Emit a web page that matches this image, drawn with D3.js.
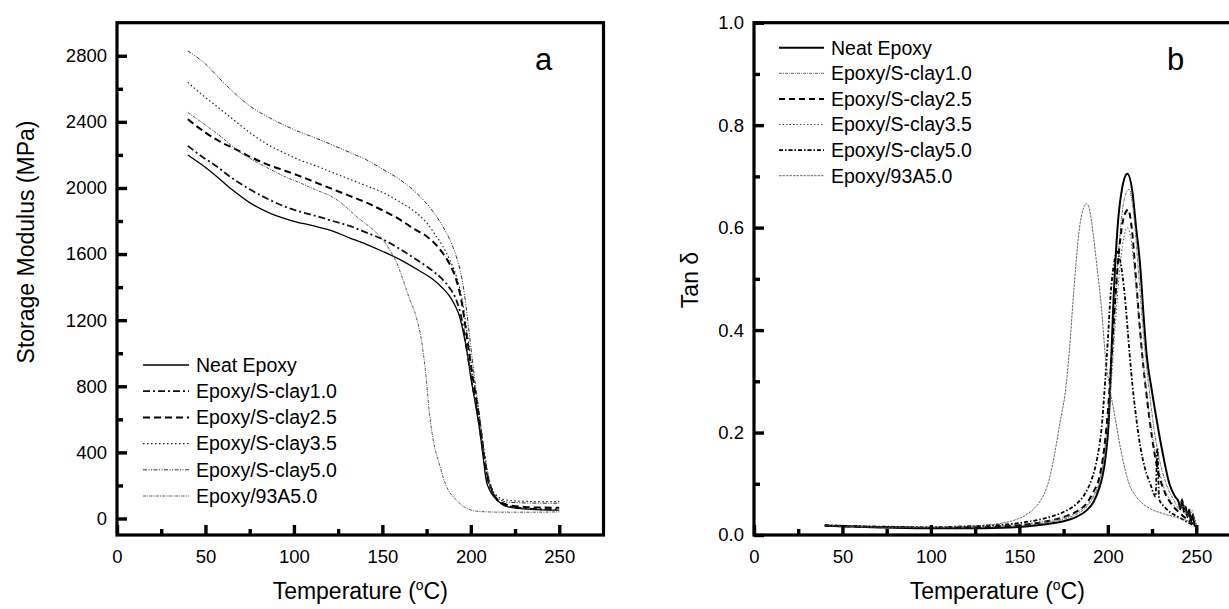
<!DOCTYPE html>
<html>
<head>
<meta charset="utf-8">
<script src="https://cdn.jsdelivr.net/npm/d3@7"></script>
<style>
  html, body { margin: 0; padding: 0; background: #fff; }
  svg { display: block; }
  text { font-family: "Liberation Sans", Arial, sans-serif; fill: #000; }
</style>
</head>
<body>
<svg id="chart" width="1229" height="609"></svg>
<script>
// ---------- DATA ----------
const seriesNames = ["Neat Epoxy", "Epoxy/S-clay1.0", "Epoxy/S-clay2.5", "Epoxy/S-clay3.5", "Epoxy/S-clay5.0", "Epoxy/93A5.0"];

// Panel a: storage modulus (MPa) vs temperature (°C)
const storageNeat = [[40,2200],[48,2140],[56,2073],[65,1990],[75,1911],[87,1845],[99.5,1800],[110,1773],[122,1739],[131,1700],[141,1659],[150,1617],[159.7,1568],[170,1505],[178.5,1447],[184,1395],[188,1345],[191,1290],[193.6,1224],[195.4,1145],[198,1000],[200,853],[202.5,700],[205,536],[207,370],[208.6,235],[211,165],[213,133],[216,100],[220,73],[230,58],[240,52],[250,50]];
const storageS10 = [[40,2255],[48,2190],[56,2133],[65,2060],[75,1992],[85,1935],[94,1891],[103,1858],[112.7,1830],[122,1800],[131.5,1770],[141,1730],[150.3,1689],[160,1630],[169,1568],[177,1510],[184,1447],[188,1395],[191.7,1325],[195,1200],[198,1000],[201,800],[204,620],[206.5,430],[209,260],[212,160],[215,110],[220,80],[230,62],[240,57],[250,55]];
const storageS25 = [[40,2416],[50,2335],[60,2270],[66,2240],[75,2190],[84.5,2144],[94,2108],[103,2073],[112,2035],[122,1992],[131.5,1952],[141,1911],[150,1865],[159.7,1810],[168,1752],[174.8,1709],[180,1660],[184,1608],[188,1540],[191.7,1447],[195,1300],[198,1080],[201,860],[204,660],[206.5,460],[209,280],[212,170],[215,115],[220,85],[230,70],[240,66],[250,65]];
const storageS35 = [[40,2639],[48,2565],[56,2497],[65,2420],[75,2336],[84,2270],[94,2215],[103,2170],[112.7,2133],[122,2093],[131.5,2053],[141,2013],[150.3,1972],[160,1915],[169,1851],[175,1790],[180.4,1709],[184,1650],[188,1568],[192,1460],[195,1330],[198,1120],[201,880],[204,680],[207,450],[209.5,280],[212,180],[215,135],[220,112],[230,104],[240,102],[250,102]];
const storageS50 = [[40,2830],[50,2750],[60,2640],[75,2497],[87,2420],[99.5,2356],[115,2290],[131.5,2215],[141,2170],[150.3,2113],[160,2050],[169,1972],[177,1880],[184,1770],[188,1690],[191.7,1588],[194,1500],[196.5,1350],[199,1130],[202,860],[205,620],[207.5,400],[210,240],[213,150],[217,110],[222,98],[235,93],[250,92]];
const storage93A = [[40,2457],[50,2380],[60,2300],[66,2245],[75,2180],[84.5,2125],[95,2068],[103,2033],[112,1990],[122,1944],[130,1880],[135,1830],[141,1780],[146.5,1730],[150,1690],[154,1628],[158,1550],[161.6,1447],[165,1340],[169,1224],[172,1083],[174.5,880],[176.6,638],[179,460],[182,336],[186,200],[191.7,113],[197,65],[205,42],[220,38],[235,38],[250,40]];

// Panel b: tan delta vs temperature (°C)
const tanNeat = [[40,0.018],[60,0.016],[80,0.014],[100,0.013],[120,0.013],[140,0.014],[155,0.017],[167,0.022],[175,0.027],[182,0.035],[188,0.048],[192,0.065],[195,0.09],[197,0.115],[199,0.16],[200.5,0.22],[201.8,0.33],[203,0.44],[205.5,0.6],[208,0.675],[211,0.705],[214,0.667],[216,0.6],[218,0.537],[220.6,0.41],[222,0.35],[224.5,0.29],[227.3,0.231],[231,0.16],[234.8,0.10],[238,0.075],[240,0.065],[241,0.05],[242,0.07],[243,0.045],[244,0.055],[245,0.035],[246,0.05],[247,0.025],[248,0.04],[249,0.02],[250,0.015]];
const tanS10 = [[40,0.019],[60,0.017],[80,0.015],[100,0.014],[120,0.014],[140,0.016],[155,0.019],[167,0.025],[175,0.031],[182,0.04],[188,0.055],[192,0.075],[195,0.1],[198,0.16],[200,0.23],[202,0.33],[204,0.44],[206.5,0.57],[209,0.65],[212,0.675],[214.5,0.63],[217,0.53],[219,0.44],[221,0.36],[223.5,0.28],[226,0.21],[229,0.15],[233,0.1],[237,0.07],[241,0.05],[243,0.06],[245,0.035],[247,0.045],[250,0.02]];
const tanS25 = [[40,0.018],[60,0.016],[80,0.015],[100,0.014],[120,0.015],[140,0.017],[155,0.021],[167,0.028],[175,0.035],[182,0.045],[188,0.062],[192,0.085],[195,0.11],[198,0.17],[200,0.24],[202,0.34],[204,0.45],[206.5,0.56],[209,0.62],[211.5,0.635],[213.5,0.6],[215.5,0.52],[217.5,0.43],[219.5,0.35],[222,0.27],[225,0.19],[228,0.13],[232,0.085],[236,0.06],[240,0.045],[245,0.03],[249,0.02]];
const tanS35 = [[40,0.02],[60,0.018],[80,0.016],[100,0.015],[120,0.016],[140,0.018],[155,0.022],[167,0.028],[175,0.034],[182,0.043],[188,0.058],[192,0.078],[195,0.1],[198,0.15],[200,0.21],[202,0.3],[204,0.4],[206.5,0.51],[209,0.58],[211,0.6],[213,0.58],[215,0.52],[217,0.44],[219,0.37],[221.5,0.29],[224.5,0.21],[228,0.14],[232,0.09],[236,0.065],[240,0.05],[242,0.07],[244,0.04],[247,0.05],[250,0.02]];
const tanS50 = [[40,0.019],[60,0.017],[80,0.016],[100,0.015],[120,0.017],[140,0.02],[155,0.026],[167,0.035],[175,0.045],[182,0.06],[187,0.08],[191,0.11],[194,0.15],[196.5,0.21],[198.5,0.3],[200,0.38],[201.6,0.47],[203.5,0.53],[205.3,0.553],[207.3,0.53],[209.5,0.47],[211,0.41],[212.4,0.35],[214,0.29],[216,0.23],[218.5,0.17],[221,0.13],[224,0.1],[227,0.075],[228,0.17],[229,0.07],[232,0.055],[235,0.045],[240,0.035],[245,0.025],[249,0.018]];
const tan93A = [[40,0.018],[60,0.016],[80,0.015],[100,0.015],[115,0.016],[130,0.019],[140,0.023],[148,0.03],[155,0.042],[160,0.058],[164,0.08],[167,0.11],[170,0.16],[173,0.22],[176,0.28],[178.3,0.36],[180.2,0.45],[182,0.53],[184,0.6],[186,0.635],[188,0.647],[190,0.63],[192,0.58],[194,0.52],[196.5,0.44],[198.8,0.342],[201,0.29],[204,0.231],[208,0.155],[212,0.1],[216,0.075],[221,0.058],[226,0.048],[231,0.042],[237,0.036],[243,0.03],[250,0.022]];

// Axis ticks
const xTicks = [0, 50, 100, 150, 200, 250];
const xMinorTicks = [25, 75, 125, 175, 225];
const yTicksA = [0, 400, 800, 1200, 1600, 2000, 2400, 2800];
const yMinorTicksA = [200, 600, 1000, 1400, 1800, 2200, 2600];
const yTicksB = [0.0, 0.2, 0.4, 0.6, 0.8, 1.0];
const yMinorTicksB = [0.1, 0.3, 0.5, 0.7, 0.9];

// ---------- STYLES ----------
const stylesA = [
  {stroke:"#000", width:1.3, dash:null},
  {stroke:"#111", width:1.8, dash:"7,3,2,3"},
  {stroke:"#000", width:2.0, dash:"7,4"},
  {stroke:"#222", width:1.2, dash:"1.5,2.5"},
  {stroke:"#333", width:1.0, dash:"4,1.5,1,1.5,1,1.5"},
  {stroke:"#444", width:0.9, dash:"3,1.2,1,1.2"}
];
const stylesB = [
  {stroke:"#000", width:2.0, dash:null},
  {stroke:"#555", width:0.9, dash:"3,1,1,1"},
  {stroke:"#000", width:2.0, dash:"6,4"},
  {stroke:"#555", width:1.0, dash:"1.5,2"},
  {stroke:"#000", width:1.8, dash:"4,2,1.5,2"},
  {stroke:"#555", width:0.9, dash:"2.5,1"}
];

const svg = d3.select("#chart");
const FONT_TICK = 18.5, FONT_TITLE = 23, FONT_LEG = 19.5;

function panel(opts) {
  const g = svg.append("g");
  const x = d3.scaleLinear().domain([0, 275]).range([opts.left, opts.right]);
  const y = d3.scaleLinear().domain(opts.yDomain).range([opts.bottom, opts.top]);

  const clipId = "clip" + opts.id;
  svg.append("defs").append("clipPath").attr("id", clipId)
    .append("rect").attr("x", opts.left).attr("y", opts.top)
    .attr("width", opts.right - opts.left).attr("height", opts.bottom - opts.top);

  const line = d3.line().x(d => x(d[0])).y(d => y(d[1])).curve(d3.curveMonotoneX);
  const lines = g.append("g").attr("clip-path", `url(#${clipId})`);
  opts.data.forEach((s, i) => {
    const st = opts.styles[i];
    lines.append("path").datum(s).attr("d", line)
      .attr("fill", "none").attr("stroke", st.stroke).attr("stroke-width", st.width)
      .attr("stroke-dasharray", st.dash);
  });

  // axes
  const styleAxis = sel => {
    sel.select(".domain").remove();
    sel.selectAll(".tick line").attr("stroke", "#000").attr("stroke-width", 3.4);
    sel.selectAll(".tick text").attr("font-size", FONT_TICK).attr("fill", "#000")
      .style("font-family", '"Liberation Sans", Arial, sans-serif');
  };
  g.append("g").attr("transform", `translate(0,${opts.bottom})`)
    .call(d3.axisBottom(x).tickValues(xTicks).tickFormat(d3.format("d")).tickSize(-10).tickSizeOuter(0).tickPadding(15))
    .call(styleAxis);
  g.append("g").attr("transform", `translate(0,${opts.bottom})`)
    .call(d3.axisBottom(x).tickValues(xMinorTicks).tickFormat("").tickSize(-6).tickSizeOuter(0))
    .call(styleAxis);
  g.append("g").attr("transform", `translate(${opts.left},0)`)
    .call(d3.axisLeft(y).tickValues(opts.yTicks).tickFormat(opts.yFormat).tickSize(-10).tickSizeOuter(0).tickPadding(10))
    .call(styleAxis);
  g.append("g").attr("transform", `translate(${opts.left},0)`)
    .call(d3.axisLeft(y).tickValues(opts.yMinor).tickFormat("").tickSize(-6).tickSizeOuter(0))
    .call(styleAxis);

  // frame
  g.append("rect").attr("x", opts.left).attr("y", opts.top)
    .attr("width", opts.right - opts.left).attr("height", opts.bottom - opts.top)
    .attr("fill", "none").attr("stroke", "#000").attr("stroke-width", 3.2);

  // x title
  const xt = g.append("text").attr("x", (opts.left + opts.right) / 2).attr("y", 599)
    .attr("text-anchor", "middle").attr("font-size", FONT_TITLE);
  xt.append("tspan").text("Temperature (");
  xt.append("tspan").attr("dy", -9).attr("font-size", 14).text("o");
  xt.append("tspan").attr("dy", 9).text("C)");

  // y title
  g.append("text").attr("transform", `translate(${opts.yTitleX},${opts.yTitleY}) rotate(-90)`)
    .attr("text-anchor", "middle").attr("font-size", FONT_TITLE).text(opts.yTitle);

  // panel label
  g.append("text").attr("x", opts.labelX).attr("y", 70).attr("font-size", 31).text(opts.label);

  // legend
  const lg = g.append("g");
  seriesNames.forEach((name, i) => {
    const st = opts.styles[i];
    const cy = opts.legY + i * opts.legStep;
    lg.append("line").attr("x1", opts.legX1).attr("x2", opts.legX2).attr("y1", cy).attr("y2", cy)
      .attr("stroke", st.stroke).attr("stroke-width", st.width).attr("stroke-dasharray", st.dash);
    lg.append("text").attr("x", opts.legX2 + 7).attr("y", cy).attr("dy", "0.35em")
      .attr("font-size", FONT_LEG).text(name);
  });
}

panel({
  id: "A", left: 117, right: 603.5, top: 22.7, bottom: 535,
  yDomain: [-100, 3000], yTicks: yTicksA, yMinor: yMinorTicksA, yFormat: d3.format("d"),
  data: [storageNeat, storageS10, storageS25, storageS35, storageS50, storage93A],
  styles: stylesA,
  yTitle: "Storage Modulus (MPa)", yTitleX: 33.5, yTitleY: 242,
  label: "a", labelX: 535,
  legX1: 143, legX2: 189, legY: 365, legStep: 26.2
});

panel({
  id: "B", left: 754, right: 1240.5, top: 22.7, bottom: 535,
  yDomain: [0, 1], yTicks: yTicksB, yMinor: yMinorTicksB, yFormat: d3.format(".1f"),
  data: [tanNeat, tanS10, tanS25, tanS35, tanS50, tan93A],
  styles: stylesB,
  yTitle: "Tan δ", yTitleX: 698, yTitleY: 280,
  label: "b", labelX: 1167,
  legX1: 779, legX2: 824, legY: 47.7, legStep: 25.6
});
</script>
</body>
</html>
